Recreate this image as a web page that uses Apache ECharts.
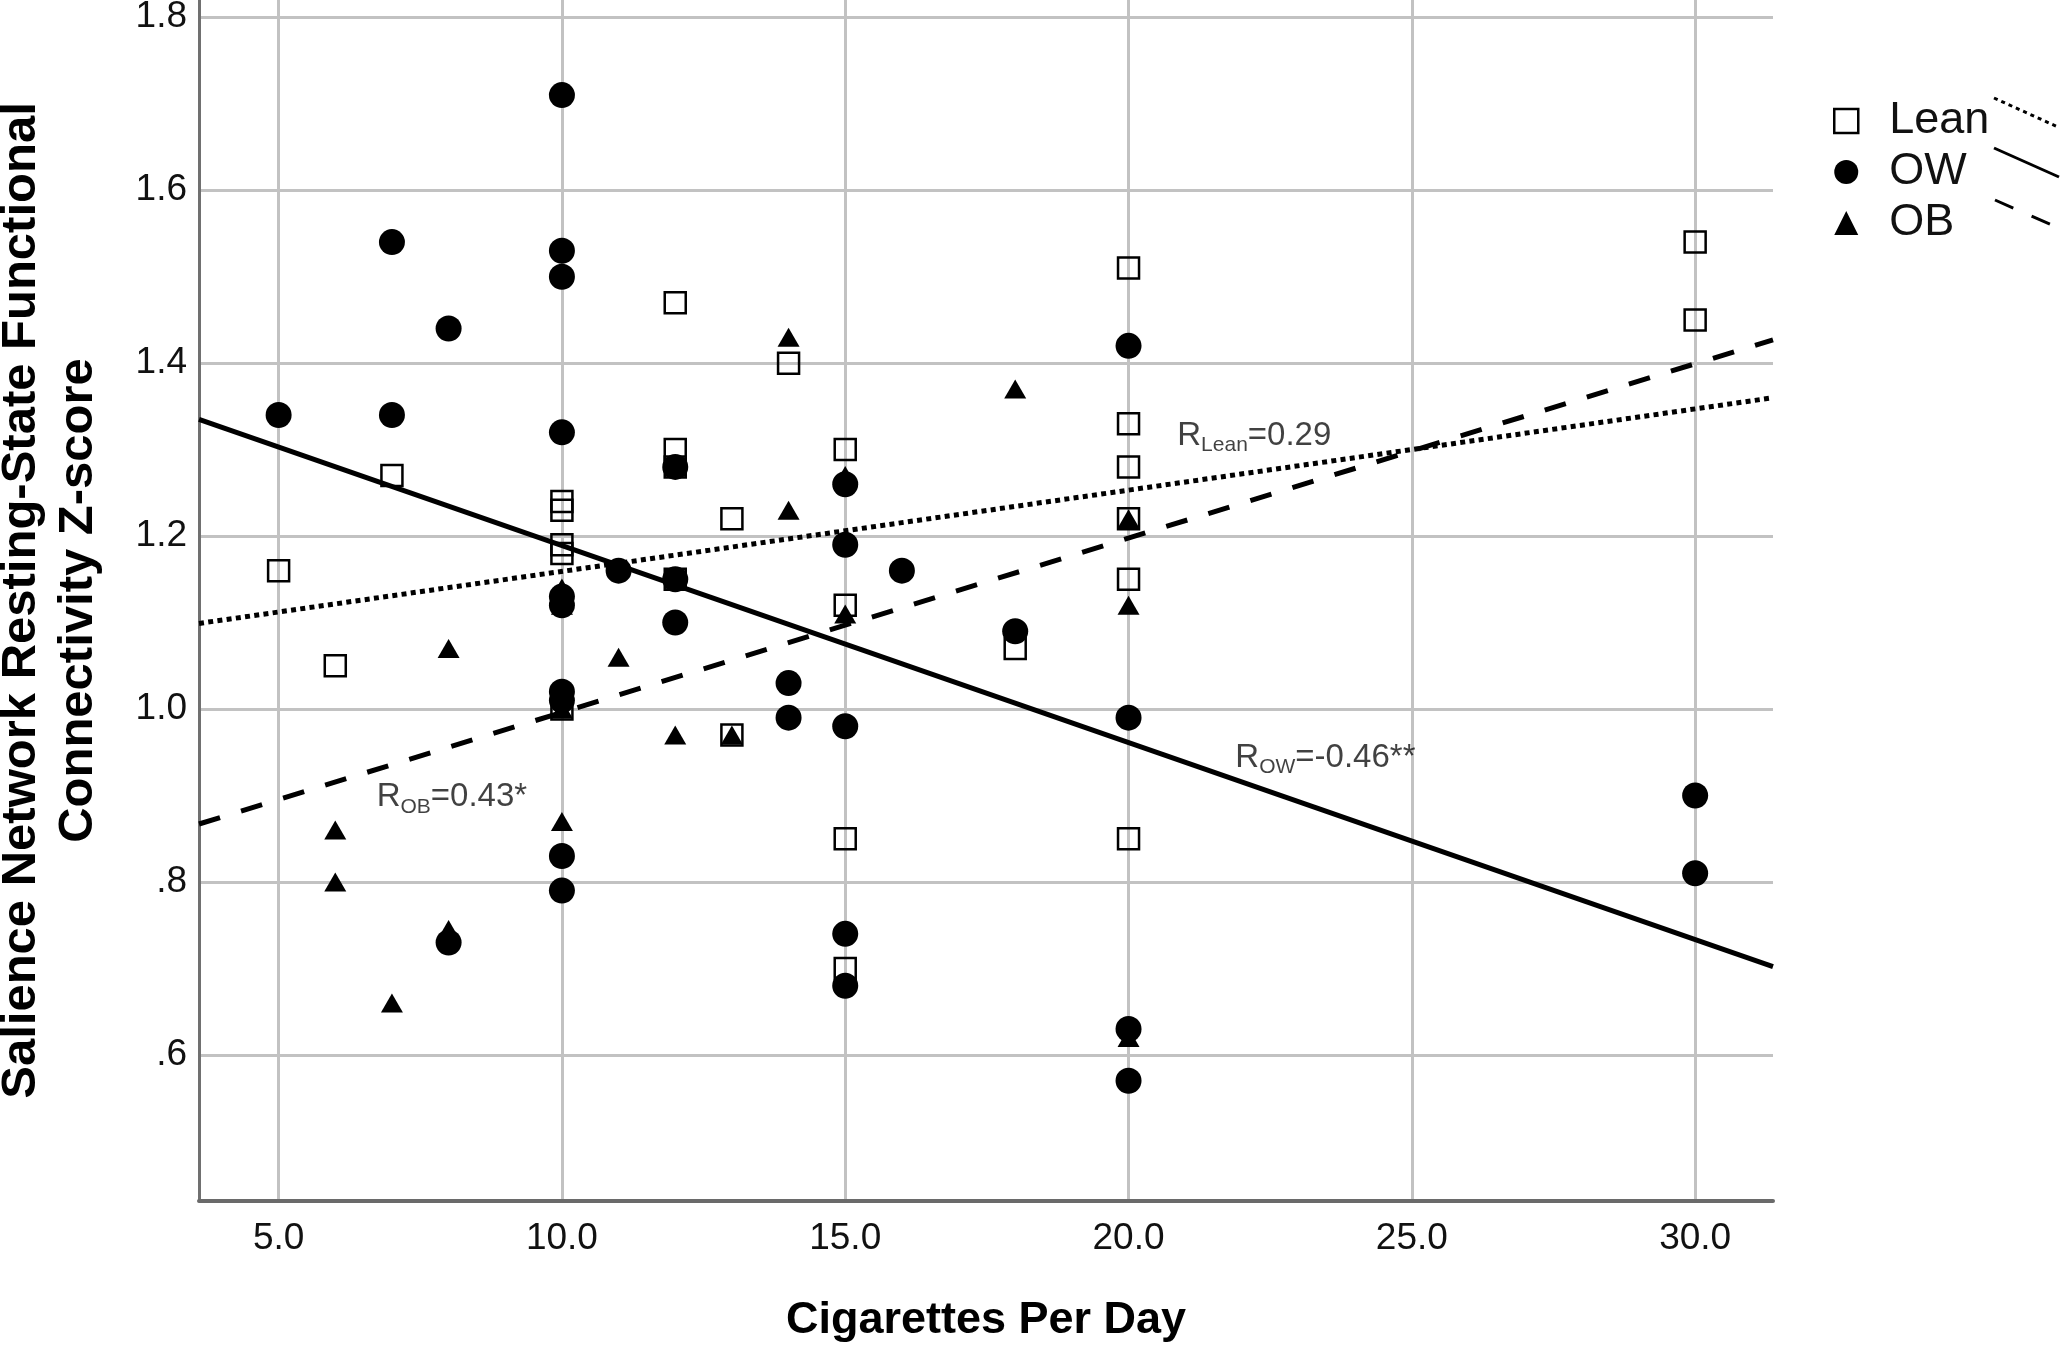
<!DOCTYPE html>
<html>
<head>
<meta charset="utf-8">
<script src="https://cdn.jsdelivr.net/npm/echarts@6/dist/echarts.min.js"></script>
<style>
html,body{margin:0;padding:0;background:#fff;}
#chart{width:2070px;height:1349px;}
</style>
</head>
<body>
<div id="chart"></div>
<script>
// ---- data ----
const seriesNames = ['Lean', 'OW', 'OB'];

const leanPoints = [
  [5, 1.16], [6, 1.05], [7, 1.27], [10, 1.24], [10, 1.23], [10, 1.19], [10, 1.18], [10, 1.00],
  [12, 1.47], [12, 1.30], [12, 1.28], [12, 1.15], [13, 1.22], [13, 0.97], [14, 1.40],
  [15, 1.30], [15, 1.12], [15, 0.85], [15, 0.70], [18, 1.07],
  [20, 1.51], [20, 1.33], [20, 1.28], [20, 1.22], [20, 1.15], [20, 0.85],
  [30, 1.54], [30, 1.45]
];

const owPoints = [
  [5, 1.34], [7, 1.54], [7, 1.34], [8, 1.44], [8, 0.73],
  [10, 1.71], [10, 1.53], [10, 1.50], [10, 1.32], [10, 1.13], [10, 1.12], [10, 1.02], [10, 1.01], [10, 0.83], [10, 0.79],
  [11, 1.16], [12, 1.28], [12, 1.15], [12, 1.10], [14, 1.03], [14, 0.99],
  [15, 1.26], [15, 1.19], [15, 0.98], [15, 0.74], [15, 0.68], [16, 1.16], [18, 1.09],
  [20, 1.42], [20, 0.99], [20, 0.63], [20, 0.57], [30, 0.90], [30, 0.81]
];

const obPoints = [
  [6, 0.86], [6, 0.80], [7, 0.66], [8, 1.07], [8, 0.745],
  [10, 1.14], [10, 1.12], [10, 1.00], [10, 0.87], [11, 1.06], [12, 1.28], [12, 0.97],
  [13, 0.97], [14, 1.43], [14, 1.23], [15, 1.27], [15, 1.11], [18, 1.37],
  [20, 1.22], [20, 1.12], [20, 0.62]
];

// fit-line end points (read at the plot edges)
const leanFit = [[3.595, 1.099], [31.374, 1.360]];
const owFit   = [[3.595, 1.335], [31.374, 0.702]];
const obFit   = [[3.595, 0.867], [31.374, 1.427]];

const xTicks = [5, 10, 15, 20, 25, 30];
const yTicks = [0.6, 0.8, 1.0, 1.2, 1.4, 1.6, 1.8];
const xRange = [3.595, 31.374];
const yRange = [0.431, 1.82];

const annotationSub = ['Lean', 'OW', 'OB'];
const annotationVal = ['=0.29', '=-0.46**', '=0.43*'];
const annotationAt  = [[20.86, 1.316], [21.885, 0.944], [6.73, 0.898]];

const xTitle = 'Cigarettes Per Day';
const yTitle = 'Salience Network Resting-State Functional\nConnectivity Z-score';

// ---- chart ----
const FONT = '"Liberation Sans", Arial, Helvetica, sans-serif';
const chart = echarts.init(document.getElementById('chart'), null, {renderer: 'canvas'});

const option = {
  animation: false,
  backgroundColor: '#ffffff',
  grid: {left: 199, top: 0, width: 1574, height: 1201, containLabel: false, outerBoundsMode: 'none'},
  xAxis: {
    type: 'value', min: xRange[0], max: xRange[1],
    axisLine: {show: true, onZero: false, lineStyle: {color: '#6a6a6a', width: 4}},
    axisTick: {show: false, customValues: xTicks},
    axisLabel: {customValues: xTicks, formatter: v => v.toFixed(1), fontSize: 37, color: '#111', margin: 19, fontFamily: FONT},
    splitLine: {show: true, lineStyle: {color: '#c2c2c2', width: 3}},
    name: xTitle, nameLocation: 'middle', nameGap: 97,
    nameTextStyle: {fontSize: 45, fontWeight: 'bold', color: '#000', fontFamily: FONT}
  },
  yAxis: {
    type: 'value', min: yRange[0], max: yRange[1],
    axisLine: {show: true, onZero: false, lineStyle: {color: '#707070', width: 3}},
    axisTick: {show: false, customValues: yTicks},
    axisLabel: {customValues: yTicks, formatter: v => v.toFixed(1).replace(/^0/, ''), fontSize: 37, color: '#111', margin: 12, fontFamily: FONT},
    splitLine: {show: true, lineStyle: {color: '#c2c2c2', width: 3}},
    name: yTitle, nameLocation: 'middle', nameGap: 92, nameRotate: 90,
    nameTextStyle: {fontSize: 49, fontWeight: 'bold', lineHeight: 57, color: '#000', fontFamily: FONT}
  },
  legend: {
    orient: 'vertical', left: 1833, top: 96, padding: 0, itemGap: 1,
    itemWidth: 24, itemHeight: 24, selectedMode: false,
    textStyle: {fontSize: 45, lineHeight: 50, color: '#111', fontFamily: FONT, padding: [0, 0, 0, 26]},
    data: [
      {name: seriesNames[0], icon: 'rect', itemStyle: {color: 'rgba(255,255,255,0)', borderColor: '#000', borderWidth: 2.5, opacity: 1}},
      {name: seriesNames[1], icon: 'circle', itemStyle: {color: '#000', borderWidth: 0, opacity: 1}},
      {name: seriesNames[2], icon: 'triangle', itemStyle: {color: '#000', borderWidth: 0, opacity: 1}}
    ]
  },
  graphic: [
    {type: 'line', shape: {x1: 1994, y1: 98, x2: 2058, y2: 127}, style: {stroke: '#000', lineWidth: 3, lineDash: [4, 4]}},
    {type: 'line', shape: {x1: 1994, y1: 148, x2: 2059, y2: 177}, style: {stroke: '#000', lineWidth: 3}},
    {type: 'line', shape: {x1: 1995, y1: 200, x2: 2054, y2: 226}, style: {stroke: '#000', lineWidth: 3, lineDash: [20, 20]}}
  ],
  series: [
    {
      name: seriesNames[1], type: 'scatter', data: owPoints, symbol: 'circle', symbolSize: 26,
      itemStyle: {color: '#000', opacity: 1}, emphasis: {disabled: true}, z: 2
    },
    {
      name: seriesNames[2], type: 'scatter', data: obPoints, symbol: 'triangle', symbolSize: [22, 19],
      itemStyle: {color: '#000', opacity: 1}, emphasis: {disabled: true}, z: 2
    },
    {
      name: seriesNames[0], type: 'scatter', data: leanPoints, symbol: 'rect', symbolSize: 21,
      itemStyle: {color: 'rgba(255,255,255,0)', borderColor: '#000', borderWidth: 2.5, opacity: 1}, emphasis: {disabled: true}, z: 3
    },
    {
      name: 'Lean fit', type: 'line', data: leanFit, symbol: 'none', silent: true, z: 4,
      lineStyle: {color: '#000', width: 5, type: [5, 4.3], cap: 'butt', opacity: 1}
    },
    {
      name: 'OW fit', type: 'line', data: owFit, symbol: 'none', silent: true, z: 4,
      lineStyle: {color: '#000', width: 5, type: 'solid', opacity: 1}
    },
    {
      name: 'OB fit', type: 'line', data: obFit, symbol: 'none', silent: true, z: 4,
      lineStyle: {color: '#000', width: 5, type: [22, 22], cap: 'butt', opacity: 1}
    },
    {
      name: 'R labels', type: 'scatter', symbolSize: 0, silent: true, z: 5,
      data: annotationAt.map((p, i) => ({
        value: p,
        label: {formatter: '{r|R}{s|' + annotationSub[i] + '}{r|' + annotationVal[i] + '}'}
      })),
      label: {
        show: true, position: 'right', distance: 0,
        rich: {
          r: {fontSize: 33, lineHeight: 40, color: '#111', fontFamily: FONT},
          s: {fontSize: 21, lineHeight: 21, verticalAlign: 'bottom', color: '#111', fontFamily: FONT}
        }
      }
    }
  ]
};
chart.setOption(option);
</script>
</body>
</html>
